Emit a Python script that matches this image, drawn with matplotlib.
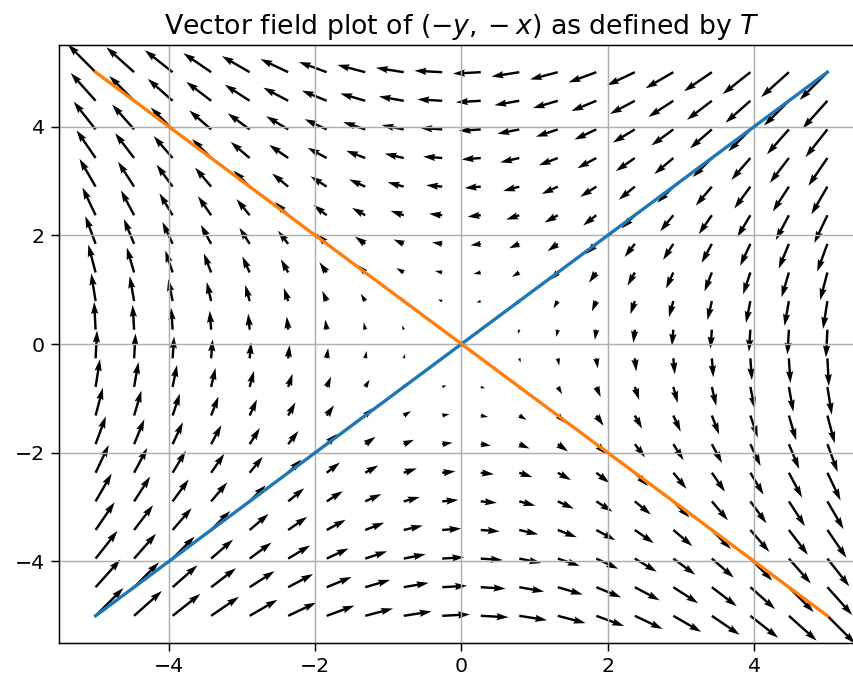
import numpy as np
import matplotlib
matplotlib.use("Agg")
import matplotlib.pyplot as plt

# grid of points where the arrows sit (20 x 20, from -5 to 5)
grid_x = np.linspace(-5, 5, 20)
grid_y = np.linspace(-5, 5, 20)

# the linear map T sends (x, y) to (-y, -x)
T = np.array([[0, -1],
              [-1, 0]])

# the two lines drawn on top
line_x = [-5, 5]
blue_y = [-5, 5]
orange_y = [5, -5]

X, Y = np.meshgrid(grid_x, grid_y)
U = T[0, 0] * X + T[0, 1] * Y
V = T[1, 0] * X + T[1, 1] * Y

plt.rcParams['xtick.labelsize'] = 11
plt.rcParams['ytick.labelsize'] = 11
plt.rcParams['xtick.major.size'] = 4.2
plt.rcParams['ytick.major.size'] = 4.2

fig = plt.figure(figsize=(853 / 134, 680 / 134), dpi=134)
ax = fig.add_axes([59 / 853, 1 - 643 / 680, (864 - 59) / 853, (643 - 45) / 680])

ax.quiver(X, Y, U, V)
ax.plot(line_x, blue_y, linewidth=1.8)
ax.plot(line_x, orange_y, linewidth=1.8)
ax.set_xlim(-5.5, 5.5)
ax.set_ylim(-5.5, 5.5)
ax.grid(True)
ax.set_title(r'Vector field plot of $(-y, -x)$ as defined by $T$', fontsize=14.4)

fig.savefig("out.png", dpi=134)
